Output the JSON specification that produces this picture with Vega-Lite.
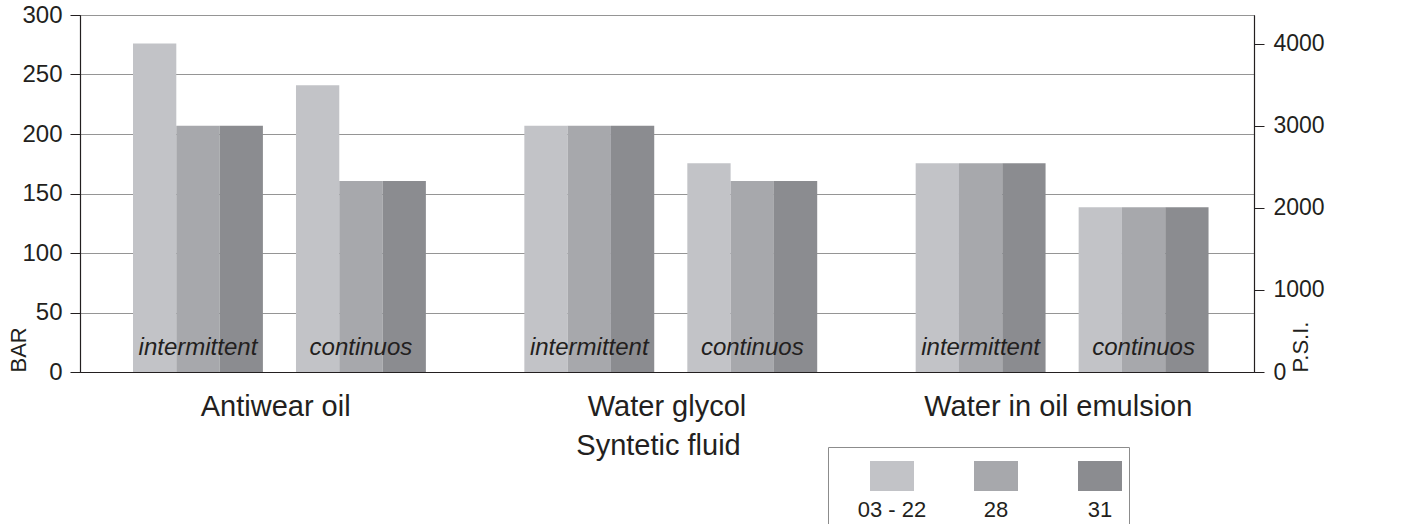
{
  "$schema": "https://vega.github.io/schema/vega-lite/v6.json",
  "width": 1174,
  "height": 357,
  "autosize": {"type": "none"},
  "padding": {"left": 80, "top": 15, "right": 152, "bottom": 152},
  "background": "white",
  "config": {
    "font": "Liberation Sans",
    "view": {"stroke": "#231f20", "strokeWidth": 1},
    "axis": {
      "labelFont": "Liberation Sans",
      "titleFont": "Liberation Sans",
      "labelColor": "#231f20",
      "titleColor": "#231f20",
      "titleFontWeight": "normal",
      "domainColor": "#231f20",
      "tickColor": "#231f20"
    },
    "legend": {"labelFont": "Liberation Sans", "titleFont": "Liberation Sans"}
  },
  "datasets": {
    "bars": [
      {"fluid": "Antiwear oil", "mode": "intermittent", "sample": "03 - 22", "bar": 276},
      {"fluid": "Antiwear oil", "mode": "intermittent", "sample": "28", "bar": 207},
      {"fluid": "Antiwear oil", "mode": "intermittent", "sample": "31", "bar": 207},
      {"fluid": "Antiwear oil", "mode": "continuos", "sample": "03 - 22", "bar": 241},
      {"fluid": "Antiwear oil", "mode": "continuos", "sample": "28", "bar": 160.5},
      {"fluid": "Antiwear oil", "mode": "continuos", "sample": "31", "bar": 160.5},
      {"fluid": "Water glycol", "mode": "intermittent", "sample": "03 - 22", "bar": 207},
      {"fluid": "Water glycol", "mode": "intermittent", "sample": "28", "bar": 207},
      {"fluid": "Water glycol", "mode": "intermittent", "sample": "31", "bar": 207},
      {"fluid": "Water glycol", "mode": "continuos", "sample": "03 - 22", "bar": 175.5},
      {"fluid": "Water glycol", "mode": "continuos", "sample": "28", "bar": 160.5},
      {"fluid": "Water glycol", "mode": "continuos", "sample": "31", "bar": 160.5},
      {"fluid": "Water in oil emulsion", "mode": "intermittent", "sample": "03 - 22", "bar": 175.5},
      {"fluid": "Water in oil emulsion", "mode": "intermittent", "sample": "28", "bar": 175.5},
      {"fluid": "Water in oil emulsion", "mode": "intermittent", "sample": "31", "bar": 175.5},
      {"fluid": "Water in oil emulsion", "mode": "continuos", "sample": "03 - 22", "bar": 138.5},
      {"fluid": "Water in oil emulsion", "mode": "continuos", "sample": "28", "bar": 138.5},
      {"fluid": "Water in oil emulsion", "mode": "continuos", "sample": "31", "bar": 138.5}
    ]
  },
  "data": {"name": "bars"},
  "layer": [
    {
      "encoding": {
        "x": {
          "field": "fluid",
          "type": "nominal",
          "sort": ["Antiwear oil", "Water glycol", "Water in oil emulsion"],
          "scale": {"paddingInner": 0, "paddingOuter": 0},
          "axis": {
            "title": "Syntetic fluid",
            "titleFontSize": 29,
            "titleY": 59,
            "titleX": 578,
            "titleBaseline": "top",
            "labelFontSize": 29,
            "labelAngle": 0,
            "labelPadding": 20,
            "labelLimit": 600,
            "ticks": false,
            "tickSize": 0,
            "domainWidth": 1.2
          }
        }
      },
      "layer": [
        {
          "transform": [{"filter": "datum.mode === 'intermittent'"}],
          "encoding": {
            "xOffset": {
              "field": "sample",
              "type": "nominal",
              "scale": {
                "domain": ["p1", "03 - 22", "28", "31", "p2", "p3", "p4", "p5"],
                "paddingInner": 0,
                "paddingOuter": 0.519,
                "align": 0.216
              }
            }
          },
          "layer": [
            {
              "mark": {"type": "bar"},
              "encoding": {
                "y": {
                  "field": "bar",
                  "type": "quantitative",
                  "scale": {"domain": [0, 300], "nice": false},
                  "axis": {
                    "title": "BAR",
                    "values": [0, 50, 100, 150, 200, 250, 300],
                    "labelFontSize": 24,
                    "tickSize": 10,
                    "labelPadding": 8,
                    "grid": true,
                    "gridColor": "#959595",
                    "gridWidth": 1,
                    "domainWidth": 1.2,
                    "titleFontSize": 22,
                    "titleAngle": -90,
                    "titleX": -50,
                    "titleY": 357,
                    "titleAlign": "left",
                    "titleBaseline": "bottom"
                  }
                },
                "color": {
                  "field": "sample",
                  "type": "nominal",
                  "scale": {"domain": ["03 - 22", "28", "31"], "range": ["#c2c3c7", "#a7a8ac", "#8b8c90"]},
                  "legend": {
                    "title": " ",
                    "titleOrient": "left",
                    "titleFontSize": 8,
                    "titlePadding": 35,
                    "orient": "none",
                    "legendX": 748,
                    "legendY": 432,
                    "direction": "horizontal",
                    "fillColor": "white",
                    "strokeColor": "#8c8c8c",
                    "padding": 7,
                    "gridAlign": "all",
                    "symbolType": "M-1,-0.68H1V0.68H-1Z",
                    "symbolSize": 1936,
                    "symbolStrokeWidth": 0,
                    "symbolOpacity": 1,
                    "labelFontSize": 22,
                    "labelColor": "#231f20",
                    "labelAlign": "center",
                    "labelBaseline": "top",
                    "labelOffset": -22,
                    "labelExpr": "['', datum.label]",
                    "labelLimit": 0,
                    "columnPadding": 47
                  }
                }
              }
            },
            {
              "transform": [{"filter": "datum.sample === '28'"}],
              "mark": {"type": "text", "fontStyle": "italic", "fontSize": 24, "baseline": "alphabetic", "align": "center", "color": "#231f20"},
              "encoding": {
                "y": {"datum": 14.3, "type": "quantitative"},
                "text": {"field": "mode"}
              }
            }
          ]
        },
        {
          "transform": [{"filter": "datum.mode === 'continuos'"}],
          "encoding": {
            "xOffset": {
              "field": "sample",
              "type": "nominal",
              "scale": {
                "domain": ["p1", "p2", "p3", "p4", "03 - 22", "28", "31", "p5"],
                "paddingInner": 0,
                "paddingOuter": 0.519,
                "align": 0.952
              }
            }
          },
          "layer": [
            {
              "mark": {"type": "bar"},
              "encoding": {
                "y": {"field": "bar", "type": "quantitative"},
                "color": {"field": "sample", "type": "nominal"}
              }
            },
            {
              "transform": [{"filter": "datum.sample === '28'"}],
              "mark": {"type": "text", "fontStyle": "italic", "fontSize": 24, "baseline": "alphabetic", "align": "center", "color": "#231f20"},
              "encoding": {
                "y": {"datum": 14.3, "type": "quantitative"},
                "text": {"field": "mode"}
              }
            }
          ]
        }
      ],
      "resolve": {"scale": {"xOffset": "independent"}}
    },
    {
      "mark": {"type": "rule", "opacity": 0},
      "encoding": {
        "y": {
          "datum": 0,
          "type": "quantitative",
          "scale": {"domain": [0, 4351], "nice": false},
          "axis": {
            "orient": "right",
            "title": "P.S.I.",
            "values": [0, 1000, 2000, 3000, 4000],
            "format": "d",
            "labelFontSize": 23,
            "tickSize": 10,
            "labelPadding": 9,
            "grid": false,
            "domainWidth": 1.2,
            "titleFontSize": 22,
            "titleAngle": -90,
            "titleX": 58,
            "titleY": 357,
            "titleAlign": "left",
            "titleBaseline": "bottom"
          }
        }
      }
    }
  ],
  "resolve": {"scale": {"y": "independent"}}
}
